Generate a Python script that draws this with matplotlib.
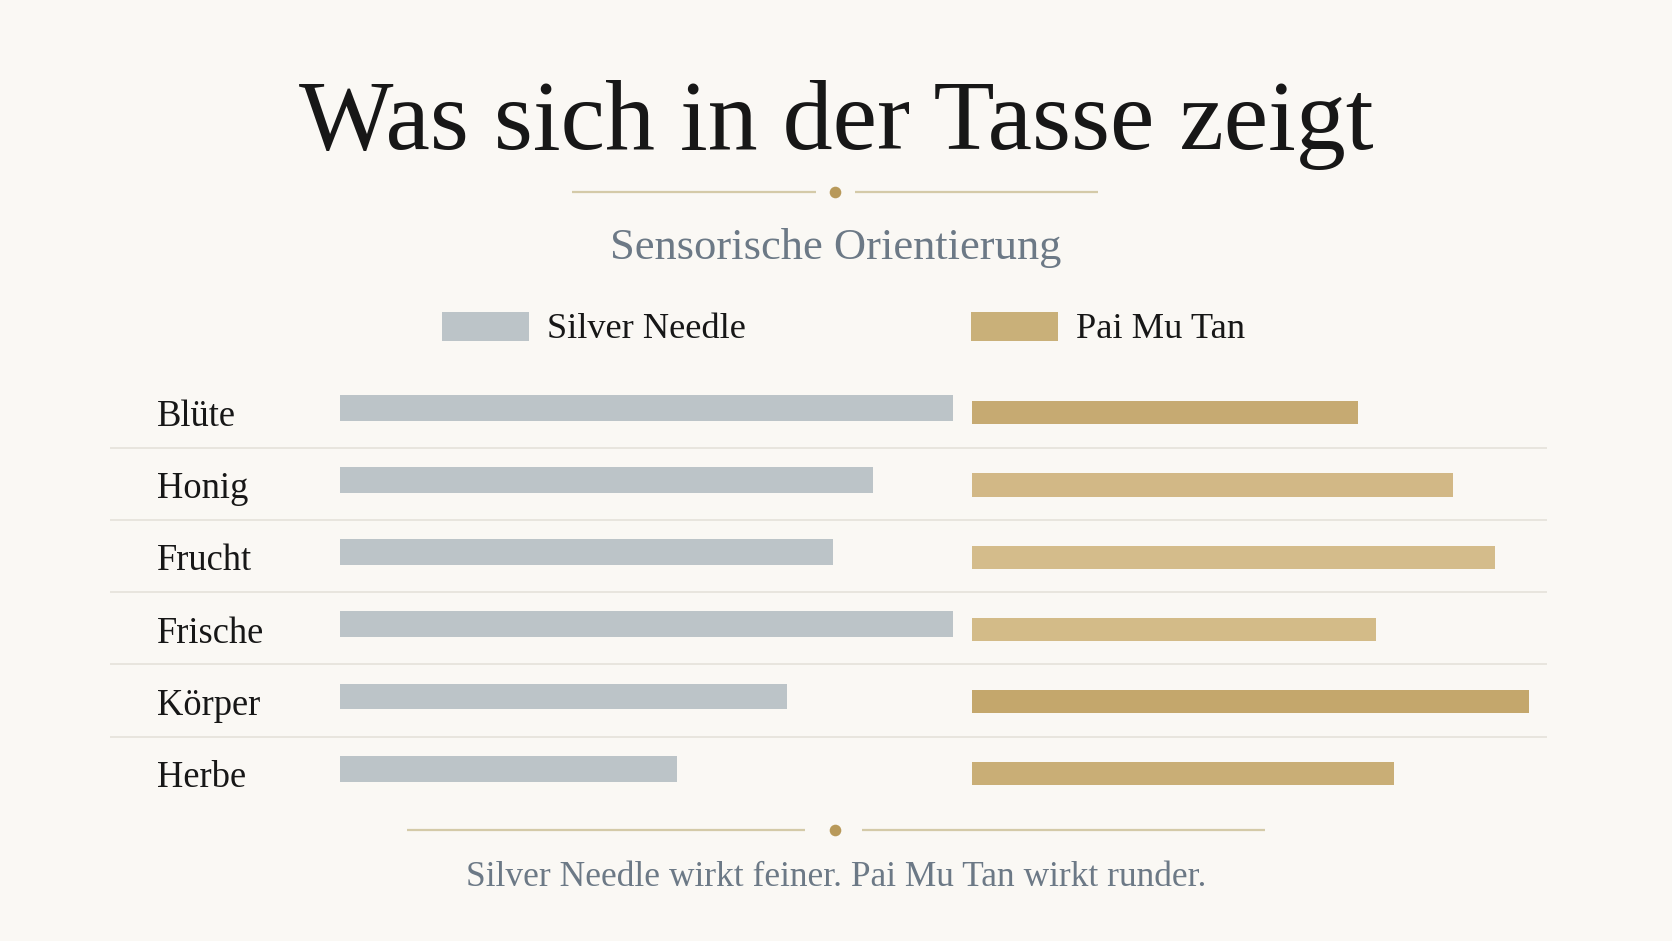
import matplotlib
matplotlib.use("Agg")
import matplotlib.pyplot as plt
import numpy as np

# ------------------------------------------------------------
# data
# ------------------------------------------------------------
categories = ["Blüte", "Honig", "Frucht", "Frische", "Körper", "Herbe"]
silver_needle = [100, 87, 80.5, 100, 73, 55]
pai_mu_tan = [63, 78.6, 85.5, 66, 91, 69]
series_names = ["Silver Needle", "Pai Mu Tan"]

title = "Was sich in der Tasse zeigt"
subtitle = "Sensorische Orientierung"
footer = "Silver Needle wirkt feiner. Pai Mu Tan wirkt runder."

# ------------------------------------------------------------
# style
# ------------------------------------------------------------
BG = "#faf8f4"
INK = "#171717"
SLATE = "#6c7986"
SILVER = "#bcc4c8"
GOLD_BARS = ["#c6aa72", "#d2b886", "#d4bc8b", "#d3bb88", "#c4a76c", "#c9ae76"]
GOLD_LEGEND = "#c9b079"
RULE = "#e7e3dc"
ORN_LINE = "#d4caa8"
ORN_DOT = "#b8995a"
SERIF = ["Liberation Serif", "DejaVu Serif"]

plt.rcParams["font.family"] = SERIF

W, H = 1672, 941
fig = plt.figure(figsize=(W / 100, H / 100), dpi=100, facecolor=BG)

# decoration layer in pixel coordinates
deco = fig.add_axes([0, 0, 1, 1])
deco.set_xlim(0, W)
deco.set_ylim(H, 0)
deco.axis("off")
deco.set_facecolor(BG)

deco.text(836, 149, title, ha="center", va="baseline", fontsize=72, color=INK)
deco.text(836, 259, subtitle, ha="center", va="baseline", fontsize=32, color=SLATE)
deco.text(836, 886, footer, ha="center", va="baseline", fontsize=25.5, color=SLATE)


def ornament(y, x0, x1, x2, x3, xc):
    deco.plot([x0, x1], [y, y], color=ORN_LINE, lw=1.6, solid_capstyle="butt")
    deco.plot([x2, x3], [y, y], color=ORN_LINE, lw=1.6, solid_capstyle="butt")
    deco.scatter([xc], [y], s=70, color=ORN_DOT, zorder=3, linewidths=0)


ornament(192, 572, 816, 855, 1098, 835)
ornament(830, 407, 805, 862, 1265, 835)

# legend
legend_items = [(442, series_names[0], SILVER), (971, series_names[1], GOLD_LEGEND)]
for x, name, col in legend_items:
    deco.add_patch(plt.Rectangle((x, 311.5), 87, 29.5, color=col, lw=0))
    deco.text(x + 105, 337.5, name, ha="left", va="baseline", fontsize=26.2, color=INK)

# ------------------------------------------------------------
# rows
# ------------------------------------------------------------
n = len(categories)
row_px = 72.2
top_px = 375.5
ax_bottom = 1 - (top_px + n * row_px) / H
ax_height = n * row_px / H
y = np.arange(n)


def make_ax(x0_px, w_px):
    a = fig.add_axes([x0_px / W, ax_bottom, w_px / W, ax_height])
    a.set_ylim(n - 0.5, -0.5)
    a.axis("off")
    a.patch.set_alpha(0)
    return a


rows = make_ax(110, 1437)
rows.set_xlim(0, 1)
for i in range(n - 1):
    rows.axhline(i + 0.5, color=RULE, lw=1.3)
for i, cat in enumerate(categories):
    rows.text(0.0327, i + 0.2, cat, ha="left", va="baseline", fontsize=26.3, color=INK)

unit_px = 612.5  # width of 100 units
ax_s = make_ax(340, unit_px)
ax_s.set_xlim(0, 100)
ax_s.barh(y - 0.054, silver_needle, height=0.36, color=SILVER, lw=0)

ax_g = make_ax(971.7, unit_px)
ax_g.set_xlim(0, 100)
ax_g.barh(y + 0.017, pai_mu_tan, height=0.32, color=GOLD_BARS, lw=0)

fig.savefig("out.png", dpi=100, facecolor=BG)
